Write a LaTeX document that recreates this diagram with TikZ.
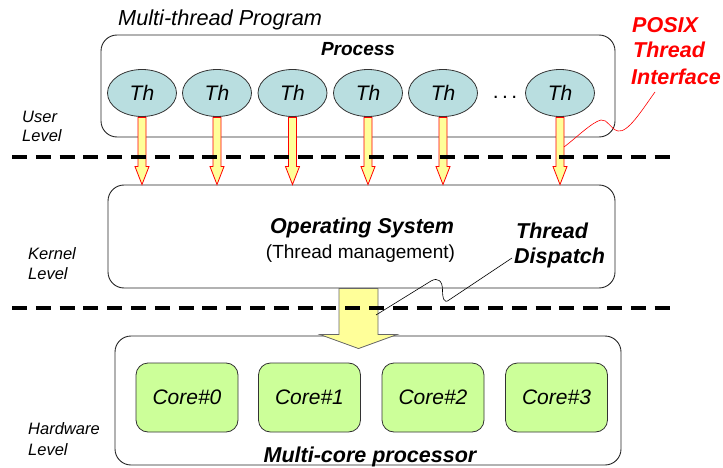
\documentclass[tikz,border=0pt]{standalone}
\usepackage{fontspec}
\setmainfont{Liberation Sans}
\usetikzlibrary{shapes.geometric,calc}
\definecolor{thfill}{HTML}{B9DEE0}
\definecolor{corefill}{HTML}{CCFF99}
\definecolor{arrfill}{HTML}{FFFF99}
\newcommand\fsz[1]{\fontsize{#1}{#1}\selectfont}
\begin{document}
\begin{tikzpicture}[x=1pt,y=-1pt,
  box/.style={draw=black!85, line width=0.9pt, rounded corners=16pt, inner sep=0},
  thnode/.style={ellipse, draw=black!80, line width=0.8pt, fill=thfill, minimum width=69pt, minimum height=47pt, inner sep=0, font=\fsz{21}\itshape},
  corenode/.style={draw=black!80, line width=0.8pt, fill=corefill, rounded corners=12pt, minimum width=102pt, minimum height=69pt, inner sep=0, font=\fsz{21}\itshape},
  lvl/.style={font=\fsz{16.5}\itshape, anchor=base west, inner sep=0},
  bolditl/.style={font=\fsz{21.5}\bfseries\itshape, inner sep=0},
  posixtxt/.style={font=\fsz{21.5}\bfseries\itshape, text=red, anchor=base west, inner sep=0},
  tharr/.style={draw=red, fill=arrfill, line width=0.8pt, line join=miter},
  bigarr/.style={draw=black!60, fill=arrfill, line width=0.8pt},
  sepline/.style={line width=4pt, dash pattern=on 15pt off 8.8pt},
  callout/.style={line width=0.6pt}
]
\useasboundingbox (0,0) rectangle (723,468);

% title
\node[font=\fsz{21.7}\itshape, anchor=base west, inner sep=0] (title) at (118,26) {Multi-thread Program};

% main boxes
\node[box, minimum width=514pt, minimum height=102pt] (proc) at (358,86) {};
\node[box, minimum width=507pt, minimum height=103pt] (os) at (361.5,236.5) {};
\node[box, minimum width=506pt, minimum height=129pt] (hw) at (368,400.5) {};

% process
\node[font=\fsz{19}\bfseries\itshape, anchor=base, inner sep=0] (proclbl) at (358,56) {Process};
\foreach \i/\x in {1/142,2/217,3/292.5,4/368,5/443,6/560}
  \node[thnode] (th\i) at (\x,93) {Th};
\node[font=\fsz{21}, anchor=base, inner sep=0] (dots) at (505,99) {.\hspace{3.5pt}.\hspace{3.5pt}.};

% thread arrows
\foreach \i in {1,...,6}
  \draw[tharr] ($(th\i.south)+(-4,0.5)$) -- ($(th\i.south |- os.north)+(-4,-18)$) -- ++(-3,0)
    -- (th\i.south |- os.north) -- ++(7,-18) -- ++(-3,0) -- ($(th\i.south)+(4,0.5)$) -- cycle;

% operating system
\node[bolditl, anchor=base] (oslbl) at (362,233) {Operating System};
\node[font=\fsz{19}, anchor=base, inner sep=0] (osmgmt) at (360.5,258) {(Thread management)};
\node[bolditl, anchor=base west] (td1) at (516,238) {Thread};
\node[bolditl, anchor=base west] (td2) at (514,263) {Dispatch};

% hardware
\foreach \i/\x in {0/187,1/309.5,2/433,3/556.5}
  \node[corenode] (core\i) at (\x,397.5) {Core\#\i};
\node[bolditl, anchor=base] (mcp) at (370,462) {Multi-core processor};

% big arrow
\coordinate (ba) at ($(os.south)+(-3,0)$);
\draw[bigarr] ($(ba)+(-19.5,0)$) -- ($(ba |- hw.north)+(-19.5,-1)$) -- ++(-19,0)
  -- ($(ba |- hw.north)+(0,13)$) -- ($(ba |- hw.north)+(38.5,-1)$) -- ++(-19,0)
  -- ($(ba)+(19.5,0)$) -- cycle;

% level labels
\node[lvl] (u1) at (22,123) {User};
\node[lvl] (u2) at (22,142) {Level};
\node[lvl] (k1) at (28,259) {Kernel};
\node[lvl] (k2) at (28,279) {Level};
\node[lvl] (h1) at (28,434) {Hardware};
\node[lvl] (h2) at (28,455) {Level};

% separators
\coordinate (d1l) at (12,157); \coordinate (d1r) at (670,157);
\coordinate (d2l) at (12,308); \coordinate (d2r) at (670,308);
\draw[sepline] (d1l) -- (d1r);
\draw[sepline] (d2l) -- (d2r);

% POSIX callout
\node[posixtxt] (px1) at (632,33) {POSIX};
\node[posixtxt] (px2) at (633,58) {Thread};
\node[posixtxt] (px3) at (631,85) {Interface};
\coordinate (ps) at (655,92);
\coordinate (pe) at (564,147);
\draw[red, callout] (ps) .. controls (642,110) and (628,133) .. (618,131)
  .. controls (610,129) and (608,119) .. (601,120)
  .. controls (592,122) and (576,138) .. (pe);

% dispatch callout
\coordinate (ds) at (512,258);
\coordinate (de) at (376,315);
\draw[callout] (ds) -- (449,300) .. controls (444,304) and (442.5,298) .. (442.5,290)
  .. controls (442.5,281) and (438,277) .. (431,281) -- (de);
\end{tikzpicture}
\end{document}
